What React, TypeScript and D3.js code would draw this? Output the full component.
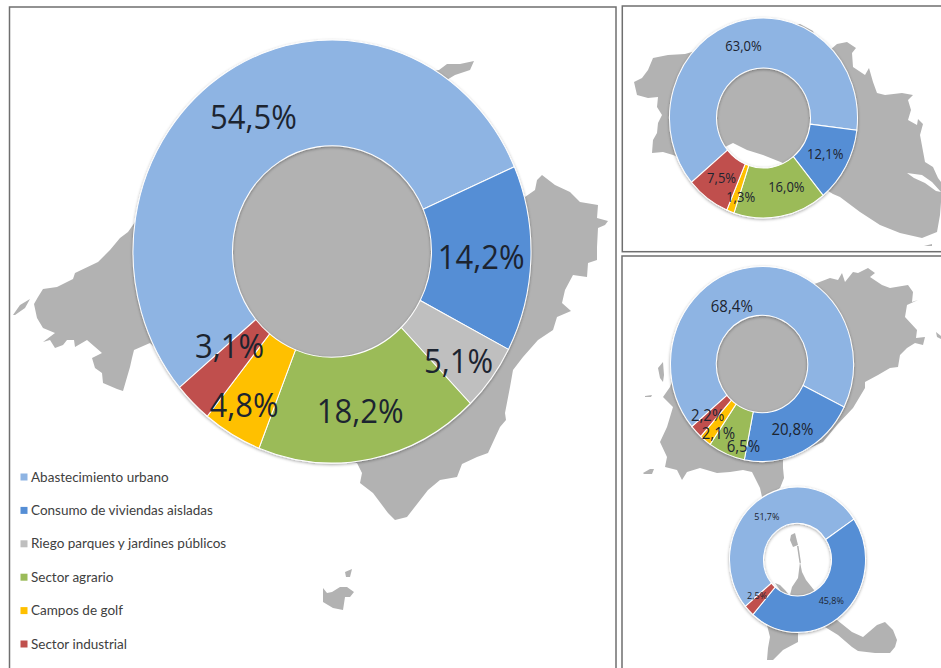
import React from "react";
import * as d3 from "d3";

type Pt = [number, number];

const WIDTH = 941;
const HEIGHT = 668;

// Categories and colours of the legend
const categories = [
  "Abastecimiento urbano",
  "Consumo de viviendas aisladas",
  "Riego parques y jardines públicos",
  "Sector agrario",
  "Campos de golf",
  "Sector industrial",
];
const colors = ["#8EB4E3", "#558ED5", "#BFBFBF", "#9BBB59", "#FFC000", "#C0504D"];

// Share of each category per island (same order as categories, 0 = not in the chart)
const mallorcaValues = [54.5, 14.2, 5.1, 18.2, 4.8, 3.1];
const menorcaValues = [63.0, 12.1, 0, 16.0, 1.3, 7.5];
const ibizaValues = [68.4, 20.8, 0, 6.5, 2.1, 2.2];
const formenteraValues = [51.7, 45.8, 0, 0, 0, 2.5];

// Hand moved labels, offset from the slice centroid
const mallorcaNudge: Pt[] = [[0, 0], [0, 0], [7, 14], [-1, 4], [-13, 16], [2, -18]];
const menorcaNudge: Pt[] = [[0, 0], [0, 0], [0, 0], [10, -4], [2, 8], [0, 0]];
const ibizaNudge: Pt[] = [[-22, 14], [0, 0], [0, 0], [8, 14], [-1, 11], [-5, 0]];
const formenteraNudge: Pt[] = [[0, 0], [0, 0], [0, 0], [0, 0], [0, 0], [-4, -2]];

// Island outlines (page pixels).
// Drawn evenodd, so a ring inside another one is a hole (the Maó inlet).
const mallorcaShape: Pt[][] = [
  [[128, 232], [120, 238], [110, 250], [98, 262], [75, 273], [73, 279], [57, 287], [43, 289], [38, 297], [34, 304], [37, 318], [43, 328], [55, 333], [43, 342], [50, 340], [55, 348], [63, 345], [67, 340], [74, 340], [75, 347], [87, 340], [102, 353], [92, 358], [95, 368], [102, 373], [103, 383], [117, 389], [123, 391], [130, 367], [132, 358], [134, 350], [150, 343], [262, 450], [300, 460], [357, 463], [362, 473], [360, 483], [373, 493], [388, 513], [395, 520], [407, 517], [428, 490], [440, 480], [457, 477], [462, 464], [477, 457], [488, 453], [500, 427], [506, 420], [505, 413], [510, 387], [513, 370], [523, 357], [538, 340], [553, 330], [557, 317], [571, 311], [562, 303], [565, 290], [573, 275], [587, 277], [588, 263], [597, 260], [597, 247], [598, 228], [605, 225], [608, 221], [597, 218], [598, 205], [580, 202], [570, 192], [555, 185], [542, 175], [537, 180], [535, 190], [525, 197], [445, 81], [455, 75], [470, 70], [474, 61], [460, 64], [447, 64], [439, 70], [330, 90], [200, 130]],
  [[13, 315], [20, 305], [30, 299], [25, 308], [15, 315]],
  [[323, 588], [327, 593], [332, 592], [340, 587], [347, 587], [354, 592], [350, 597], [345, 597], [343, 610], [333, 608], [323, 602]],
  [[345, 572], [352, 569], [350, 577], [346, 577]],
];
const menorcaShape: Pt[][] = [
  [[692, 52], [685, 54], [668, 55], [653, 58], [648, 70], [642, 78], [634, 82], [637, 95], [648, 98], [658, 97], [657, 107], [662, 115], [658, 123], [657, 133], [653, 140], [652, 153], [663, 152], [673, 155], [678, 157], [725, 147], [733, 143], [747, 150], [763, 155], [783, 163], [833, 194], [840, 197], [860, 212], [880, 225], [900, 233], [922, 238], [937, 232], [940, 215], [941, 202], [941, 182], [938, 178], [933, 167], [925, 162], [920, 135], [923, 124], [918, 119], [917, 125], [908, 120], [911, 110], [908, 100], [913, 95], [902, 93], [885, 95], [877, 93], [873, 82], [869, 68], [865, 75], [853, 67], [852, 53], [856, 48], [847, 42], [837, 44], [830, 50], [820, 50], [813, 31], [800, 24]],
  [[907, 173], [922, 175], [932, 182], [941, 192], [936, 191], [925, 183], [914, 178]],
  [[924, 246], [932, 244], [932, 246]],
];
const ibizaShape: Pt[][] = [
  [[670, 387], [663, 397], [673, 407], [667, 427], [660, 442], [667, 457], [665, 467], [677, 470], [682, 480], [687, 472], [700, 468], [717, 473], [730, 472], [743, 470], [752, 472], [760, 488], [762, 497], [777, 490], [780, 488], [784, 478], [783, 468], [783, 460], [823, 442], [837, 425], [853, 408], [865, 388], [865, 382], [878, 375], [890, 368], [898, 367], [900, 355], [907, 348], [915, 343], [923, 345], [925, 337], [916, 338], [917, 330], [905, 317], [907, 305], [918, 300], [912, 302], [913, 292], [908, 285], [890, 288], [882, 285], [870, 277], [875, 273], [868, 268], [858, 273], [853, 272], [845, 282], [842, 273], [838, 280], [830, 278], [817, 283], [800, 290], [760, 275], [700, 300]],
  [[658, 368], [663, 362], [664, 375], [663, 382], [660, 378]],
  [[645, 396], [652, 395], [651, 397], [645, 397]],
  [[643, 473], [650, 469], [654, 469], [652, 474], [644, 474]],
  [[936, 332], [941, 336], [941, 339], [937, 337]],
];
const formenteraShape: Pt[][] = [
  // north islet and the thin spit
  [[791, 535], [795, 533], [798, 545], [793, 547], [790, 540]],
  [[797, 546], [798.5, 546], [801, 563], [799.5, 563]],
  // the piece seen in the hole
  [[800, 562], [802, 572], [806, 580], [814, 590], [812, 600], [790, 600], [790, 595], [792, 587], [798, 578], [799, 570]],
  [[775, 583], [780, 585], [785, 590], [790, 596], [784, 596]],
  // south lobe and east lobe, joined under the ring
  [[767, 625], [770, 637], [768, 648], [767, 660], [773, 660], [783, 650], [798, 642], [798, 632], [825, 627], [838, 635], [852, 647], [858, 651], [875, 653], [890, 653], [895, 647], [897, 640], [893, 630], [885, 622], [877, 625], [863, 637], [852, 632], [837, 620], [800, 610]],
];

const islandPath = d3.line().curve(d3.curveLinearClosed);

const pie = d3
  .pie<number>()
  .sort(null)
  .startAngle((-130 * Math.PI) / 180)
  .endAngle((230 * Math.PI) / 180);

type DonutProps = {
  values: number[];
  nudge: Pt[];
  cx: number;
  cy: number;
  rx: number;
  ry: number;
  fontSize: number;
};

// The picture was stretched a little, so each donut is an ellipse
const Donut = ({ values, nudge, cx, cy, rx, ry, fontSize }: DonutProps) => {
  const arc = d3
    .arc<d3.PieArcDatum<number>>()
    .innerRadius(rx / 2)
    .outerRadius(rx);
  const slices = pie(values);
  return (
    <g transform={`translate(${cx},${cy}) scale(1,${ry / rx})`}>
      <g filter="url(#ringShadow)">
        {slices.map((s, i) =>
          s.data > 0 ? (
            <path key={i} d={arc(s) as string} fill={colors[i]} stroke="#fff" strokeWidth={1} />
          ) : null
        )}
      </g>
      {slices.map((s, i) => {
        if (s.data <= 0) return null;
        const [x, y] = arc.centroid(s);
        return (
          <text
            key={i}
            x={x + nudge[i][0]}
            y={y + nudge[i][1]}
            dy="0.36em"
            textAnchor="middle"
            fontFamily="'Open Sans', sans-serif"
            fontSize={fontSize}
            fill="#1c2430"
          >
            {s.data.toFixed(1).replace(".", ",")}%
          </text>
        );
      })}
    </g>
  );
};

const Island = ({ shape }: { shape: Pt[][] }) => (
  <path
    d={shape.map((p) => islandPath(p)).join("")}
    fill="#B2B2B2"
    fillRule="evenodd"
    style={{ filter: "blur(0.4px)" }}
  />
);

const legendY = d3
  .scalePoint<string>()
  .domain(categories)
  .range([477, 644]);

export default function App() {
  return (
    <svg
      width={WIDTH}
      height={HEIGHT}
      style={{ position: "absolute", left: 0, top: 0, background: "#fff" }}
    >
      <defs>
        <filter id="ringShadow" x="-10%" y="-10%" width="120%" height="120%">
          <feDropShadow dx="0" dy="1" stdDeviation="1.4" floodColor="#000" floodOpacity="0.35" />
        </filter>
      </defs>

      {/* panel frames */}
      <g fill="none" stroke="#6f6f6f" strokeWidth={1.5}>
        <rect x={9.5} y={7} width={606.5} height={680} />
        <rect x={622.3} y={6} width={340} height={245.7} />
        <rect x={622} y={256} width={340} height={430} />
      </g>

      <Island shape={mallorcaShape} />
      <Island shape={menorcaShape} />
      <Island shape={ibizaShape} />
      <Island shape={formenteraShape} />

      <Donut values={mallorcaValues} nudge={mallorcaNudge} cx={332} cy={251.5} rx={199} ry={211.5} fontSize={31} />
      <Donut values={menorcaValues} nudge={menorcaNudge} cx={763.5} cy={118} rx={94} ry={100} fontSize={13} />
      <Donut values={ibizaValues} nudge={ibizaNudge} cx={762} cy={364} rx={91.5} ry={97.5} fontSize={15} />
      <Donut values={formenteraValues} nudge={formenteraNudge} cx={797.5} cy={559.7} rx={68} ry={72.7} fontSize={9} />

      {/* legend */}
      {categories.map((c, i) => (
        <g key={c} transform={`translate(20.5,${legendY(c)})`}>
          <rect y={-3.5} width={7} height={7} fill={colors[i]} />
          <text
            x={10.5}
            dy="0.34em"
            fontFamily="Lato, sans-serif"
            fontSize={13.5}
            fill="#404040"
          >
            {c}
          </text>
        </g>
      ))}
    </svg>
  );
}
